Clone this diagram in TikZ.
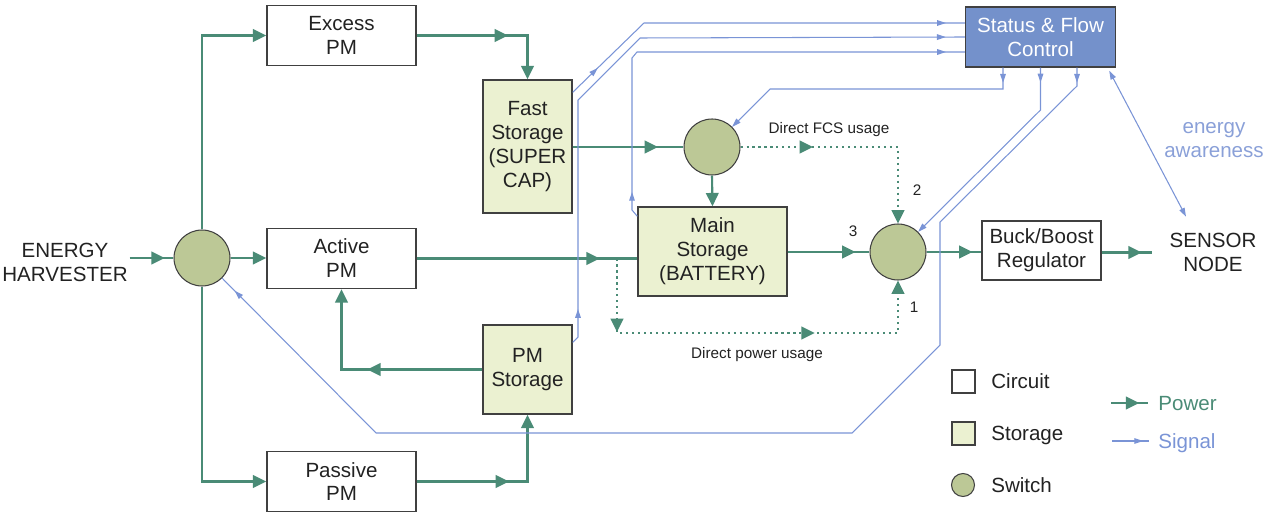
\documentclass[tikz,border=0pt]{standalone}
\usepackage{fontspec}
\setmainfont{Liberation Sans}
\usetikzlibrary{arrows.meta,decorations.markings}
\definecolor{pgreen}{RGB}{74,139,118}
\definecolor{sblue}{RGB}{122,148,214}
\definecolor{awblue}{RGB}{138,160,216}
\definecolor{ctrl}{RGB}{116,145,203}
\definecolor{stor}{RGB}{235,241,209}
\definecolor{swit}{RGB}{188,200,150}
\definecolor{bord}{RGB}{64,64,64}
\definecolor{ink}{RGB}{34,34,34}
\tikzset{
    CC1/.style ={circle,minimum size = 1.12cm, inner sep=0pt, draw=bord, fill=swit, line width=0.6pt},
    RA1/.style ={rectangle,minimum width = 2.98cm, minimum height = 1.2cm, inner sep=0pt, draw=bord, line width=0.8pt, align=center},
    RA2/.style ={RA1, fill=stor},
    RA3/.style ={RA1, fill=ctrl, text=white, minimum width = 3.0cm},
    TX/.style ={align=center, inner sep=1pt},
    LG/.style ={anchor=west, inner sep=0pt, text height=8.4pt, text depth=0pt},
    SM/.style ={font=\fontsize{8.7}{10}\selectfont, inner sep=0pt},
    PW/.style ={draw=pgreen, line width=1.2pt},
    DT/.style ={dash pattern=on 1.2pt off 2.2pt},
    SG/.style ={draw=sblue, line width=0.6pt},
    PT/.style ={-{Triangle[length=7.6pt,width=7.2pt]}},
    ST/.style ={-{Triangle[length=5pt,width=3.2pt]}},
    MA/.style ={postaction={decorate,decoration={markings,mark=at position #1 with {\arrow{Triangle[length=7.6pt,width=7.2pt]}}}}},
    MS/.style ={postaction={decorate,decoration={markings,mark=at position #1 with {\arrow{Triangle[length=5pt,width=3.2pt]}}}}}}

\begin{document}
\begin{tikzpicture}[x=0.02cm,y=-0.02cm,every node/.style={font=\fontsize{11.7}{13.6}\selectfont,text=ink}]
        \useasboundingbox (0,0) rectangle (1267,523);
        % blocks
        \node[CC1] (1) at(202,258){};
        \node[RA1] (2) at(341.5,35.5){Excess\\PM};
        \node[RA1] (3) at(341.5,258.5){Active\\PM};
        \node[RA1] (4) at(341.5,481.5){Passive\\PM};
        \node[RA2,minimum width=1.78cm,minimum height=2.66cm] (5) at(527.5,146.5){Fast\\Storage\\(SUPER\\CAP)};
        \node[CC1] (6) at(712,147){};
        \node[RA2,minimum width=1.78cm,minimum height=1.78cm] (7) at(527.5,369.5){PM\\Storage};
        \node[RA2,minimum height=1.78cm] (8) at(712.5,251.5){Main\\Storage\\(BATTERY)};
        \node[CC1] (9) at(898,252){};
        \node[RA1,minimum width=2.38cm,minimum height=1.18cm] (10) at(1041.5,250.5){Buck/Boost\\Regulator};
        \node[TX,inner xsep=10pt] (11) at(1213,252.5){SENSOR\\NODE};
        \node[RA3] (12) at(1040.5,37){Status \& Flow\\Control};
        \node[TX] (13) at(65,262){ENERGY\\HARVESTER};
        \node[TX,text=awblue] (22) at(1214,140){energy\\awareness};
        % labels
        \node[SM] (23) at(829,130){Direct FCS usage};
        \node[SM] (24) at(757,355){Direct power usage};
        \node[SM] (25) at(853,231){3};
        \node[SM] (26) at(917,190){2};
        \node[SM] (27) at(914,307){1};
        % power
        \draw[PW,MA=0.8] (13.east |- 1) -- (1.west);
        \draw[PW,PT] (1.north) |- (2.west);
        \draw[PW,PT] (1.east) -- (1.east -| 3.west);
        \draw[PW,PT] (1.south) |- (4.west);
        \draw[PW,PT,MA=0.59] (2.east) -| (5.north);
        \draw[PW,MA=0.77] (5.east |- 6.west) -- (6.west);
        \draw[PW,PT] (6.south) -- (8.north);
        \draw[PW,MA=0.83] (3.east) -- (3.east -| 8.west);
        \draw[PW,MA=0.83] (8.east |- 9.west) -- (9.west);
        \draw[PW,MA=0.84] (9.east) -- (9.east -| 10.west);
        \draw[PW,MA=0.8] (10.east |- 11.west) -- (11.west);
        \draw[PW,PT,MA=0.52] (7.west) -| (3.south);
        \draw[PW,PT,MA=0.52] (4.east) -| (7.south);
        % direct usage
        \coordinate (c1) at(617,258.5);
        \coordinate (c2) at(898,333);
        \draw[PW,DT,PT,MA=0.31] (6.east) -| (9.north);
        \draw[PW,DT,PT,MA=0.18,MA=0.667] (c1) |- (c2) -- (9.south);
        % signal
        \draw[SG,MS=0.083,MS=0.955] ([yshift=-0.26cm]5.north east) -- (644,23) -- ([yshift=0.28cm]12.west);
        \draw[SG,MS=0.054,MS=0.971] ([yshift=-0.36cm]7.north east) -- (578,337) -- (578,100) -- (640,38) -- (12.west);
        \draw[SG,MS=0.053,MS=0.962] ([yshift=-0.2cm]8.north west) -- (632,210) -- (632,58) -- (637,52) -- ([yshift=-0.3cm]12.west);
        \draw[SG,ST,MS=0.049] ([xshift=-0.75cm]12.south) -- (1003,89) -- (770,89) -- (6.45);
        \draw[SG,ST,MS=0.069] (12.south) -- (1040.5,110) -- (9.45);
        \draw[SG,MS=0.013,MS=0.985] ([xshift=0.73cm]12.south) -- (1077,86) -- (940,222) -- (940,345) -- (852,433) -- (376,433) -- (1.-45);
        \draw[SG,{Triangle[length=5pt,width=3.2pt]}-{Triangle[length=5pt,width=3.2pt]}] ([xshift=-0.14cm,yshift=-0.06cm]12.south east) -- ([xshift=-0.54cm,yshift=0.29cm]11.north);
        % legend
        \node[RA1,minimum width=0.46cm,minimum height=0.46cm] (14) at(963.5,381.5){};
        \node[RA2,minimum width=0.46cm,minimum height=0.46cm] (15) at(963.5,433.5){};
        \node[CC1,minimum size=0.46cm] (16) at(963,485){};
        \node[LG] (17) at(991,381){Circuit};
        \node[LG] (18) at(991,433){Storage};
        \node[LG] (19) at(991,485){Switch};
        \node[LG,text=pgreen] (20) at(1158,403){Power};
        \node[LG,text=sblue] (21) at(1158,441){Signal};
        \coordinate (c3) at(1111,403);
        \coordinate (c4) at(1112,441);
        \draw[PW,MA=0.76] (c3) -- ([xshift=-0.2cm]20.west);
        \draw[SG,MS=0.84] (c4) -- ([xshift=-0.18cm]21.west);
    \end{tikzpicture}
\end{document}
